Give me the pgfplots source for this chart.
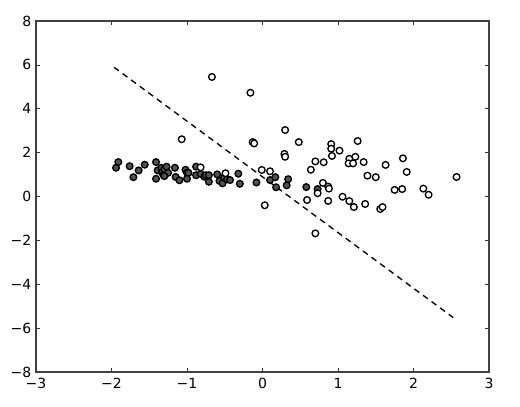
\documentclass[border=0pt]{standalone}
\usepackage{fontspec}
\setmainfont{DejaVu Sans}
\usepackage{pgfplots}
\pgfplotsset{compat=1.18}

\begin{document}
\begin{tikzpicture}
  \begin{axis}[
      name=ax,
      scale only axis,
      width=339.75pt,
      height=263.25pt,
      xmin=-3, xmax=3,
      ymin=-8, ymax=8,
      xtick={-3,-2,-1,0,1,2,3},
      xticklabels={−3,−2,−1,0,1,2,3},
      ytick={-8,-6,-4,-2,0,2,4,6,8},
      yticklabels={−8,−6,−4,−2,0,2,4,6,8},
      tick align=inside,
      major tick length=3pt,
      tick style={black!80, line width=0.5pt},
      axis line style={black!75, line width=1pt},
      tick label style={font=\fontsize{10.5}{12}\selectfont},
      xticklabel style={yshift=-1pt},
    ]

    % dashed boundary
    \addplot[black, line width=1pt, dash pattern=on 4.5pt off 3.5pt]
      coordinates {(-1.967,5.89) (2.527,-5.52)};

    % class 1: filled grey
    \addplot[only marks, mark=*, mark size=2.5pt,
      mark options={fill=black!68, draw=black, line width=1pt}]
      coordinates {
        (-1.94,1.31) (-1.91,1.57) (-1.76,1.38) (-1.71,0.88) (-1.64,1.19)
        (-1.56,1.45) (-1.41,1.57) (-1.41,0.81) (-1.39,1.19) (-1.34,1.31)
        (-1.33,1.10) (-1.31,0.98) (-1.30,1.25) (-1.27,1.36) (-1.25,1.08)
        (-1.30,0.93) (-1.16,1.31) (-1.15,0.89) (-1.10,0.74) (-1.02,1.22)
        (-1.00,1.08) (-1.00,0.81) (-0.98,1.08) (-0.88,1.36) (-0.88,0.97)
        (-0.82,1.03) (-0.77,0.90) (-0.75,0.97) (-0.71,0.67) (-0.71,0.97)
        (-0.60,1.01) (-0.57,0.71) (-0.53,0.60) (-0.51,0.86) (-0.47,0.78)
        (-0.43,0.75) (-0.32,1.04) (-0.30,0.58) (-0.08,0.64) (0.10,0.75)
        (0.17,0.88) (0.18,0.42) (0.34,0.79) (0.32,0.51) (0.58,0.43)
        (0.73,0.34)
      };

    % class 2: open
    \addplot[only marks, mark=*, mark size=2.5pt,
      mark options={fill=white, draw=black, line width=1pt}]
      coordinates {
        (-1.07,2.61) (-0.82,1.33) (-0.49,1.06) (-0.13,2.48) (-0.11,2.42)
        (-0.16,4.73) (-0.67,5.45) (-0.01,1.21) (0.10,1.15) (0.03,-0.40)
        (0.30,3.03) (0.29,1.94) (0.30,1.81) (0.48,2.48) (0.64,1.22)
        (0.70,1.60) (0.81,1.56) (0.91,2.39) (0.91,2.18) (0.92,1.85)
        (1.02,2.09) (1.26,2.53) (1.15,1.72) (1.23,1.81) (1.14,1.51)
        (1.20,1.51) (1.34,1.57) (1.86,1.74) (1.63,1.44) (1.91,1.12)
        (2.57,0.89) (0.80,0.62) (0.87,0.45) (0.88,0.36) (0.73,0.15)
        (1.39,0.95) (1.50,0.88) (1.75,0.30) (1.85,0.34) (2.13,0.36)
        (2.20,0.08) (0.59,-0.16) (0.87,-0.20) (1.06,-0.01) (1.15,-0.21)
        (1.21,-0.48) (1.36,-0.34) (1.56,-0.57) (1.59,-0.48) (0.70,-1.68)
      };
  \end{axis}
  \pgfresetboundingbox
  \path ([shift={(-27pt,-25.5pt)}]ax.south west) rectangle ([shift={(23.25pt,15.75pt)}]ax.north east);
\end{tikzpicture}
\end{document}
